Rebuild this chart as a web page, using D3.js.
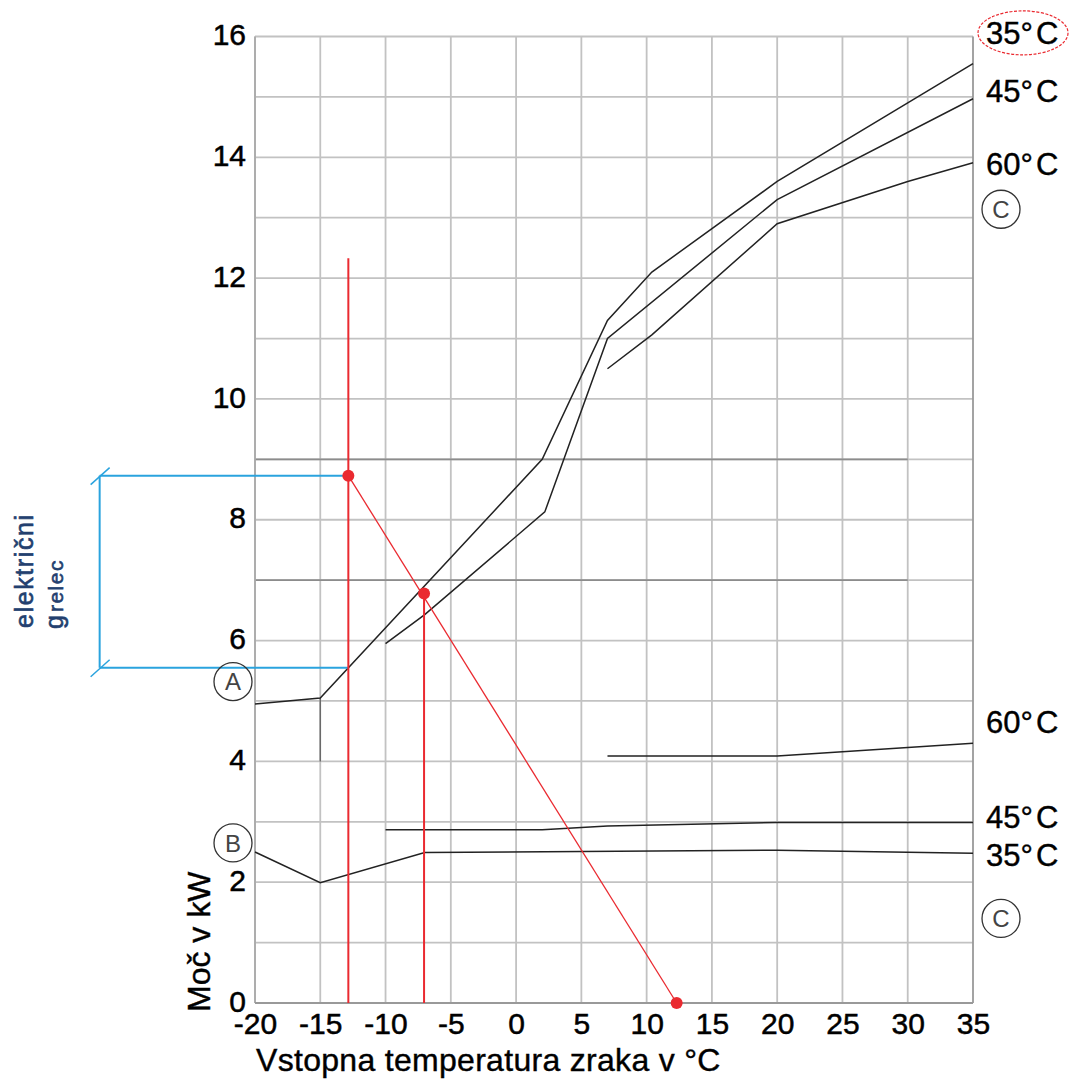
<!DOCTYPE html>
<html>
<head>
<meta charset="utf-8">
<script src="https://cdn.jsdelivr.net/npm/d3@7"></script>
<style>
  body { margin: 0; background: #fff; }
  text { font-family: "Liberation Sans", Arial, sans-serif; }
</style>
</head>
<body>
<script>
// tick values
const tempTicks = [-20, -15, -10, -5, 0, 5, 10, 15, 20, 25, 30, 35];
const powerTicks = [0, 2, 4, 6, 8, 10, 12, 14, 16];
const powerGrid = d3.range(0, 17);

// A: heating capacity curves [temp, kW]
const capacity35 = [[-20, 4.95], [-15, 5.05], [2, 9.0], [7, 11.3], [10.4, 12.1], [20, 13.6], [30, 14.9], [35, 15.55]];
const capacity45 = [[-10, 5.95], [-7, 6.43], [2.2, 8.13], [7, 11.0], [20, 13.3], [35, 14.97]];
const capacity60 = [[7, 10.5], [10.4, 11.06], [20, 12.9], [30, 13.6], [35, 13.91]];

// B: power input curves
const input35 = [[-20, 2.5], [-15, 1.99], [-7, 2.49], [20, 2.53], [35, 2.48]];
const input45 = [[-10, 2.87], [2, 2.87], [7, 2.93], [20, 2.99], [35, 2.99]];
const input60 = [[7, 4.09], [20, 4.09], [35, 4.3]];

// red construction (bivalent point reading)
const markTop = [-12.85, 8.73];
const markMid = [-7.05, 6.78];
const markZero = [12.3, 0];
const redTopValue = 12.33;

// blue bracket: electric heater share
const heaterFrom = 5.55;
const heaterTo = 8.73;
const bracketTemp = -31.9;

// darker grid pieces
const darkRows = [7, 9];
const darkRowEnd = 30;

// labels at right side
const upperLabels = [{t: "35°", v: 16.06, ring: true}, {t: "45°", v: 15.1}, {t: "60°", v: 13.9}];
const lowerLabels = [{t: "60°", v: 4.65}, {t: "45°", v: 3.08}, {t: "35°", v: 2.45}];
const circleC = [13.14, 1.4];

const W = 1069, H = 1079;
const svg = d3.select("body").append("svg").attr("width", W).attr("height", H);

const x = d3.scaleLinear().domain([-20, 35]).range([255, 973]);
const y = d3.scaleLinear().domain([0, 16]).range([1003, 36.5]);

// grid
svg.append("g").selectAll("line").data(powerGrid).enter().append("line")
  .attr("x1", x(-20)).attr("x2", x(35))
  .attr("y1", d => y(d)).attr("y2", d => y(d))
  .attr("stroke", "#c2c2c2").attr("stroke-width", 1.8);
svg.append("g").selectAll("line").data(tempTicks).enter().append("line")
  .attr("x1", d => x(d)).attr("x2", d => x(d))
  .attr("y1", y(0)).attr("y2", y(16))
  .attr("stroke", d => d === 35 ? "#999" : "#c2c2c2").attr("stroke-width", 1.8);
svg.append("g").selectAll("line").data(darkRows).enter().append("line")
  .attr("x1", x(-20)).attr("x2", x(darkRowEnd))
  .attr("y1", d => y(d)).attr("y2", d => y(d))
  .attr("stroke", "#8c8c8c").attr("stroke-width", 1.8);
svg.append("line")
  .attr("x1", x(-15)).attr("x2", x(-15)).attr("y1", y(4)).attr("y2", y(5.05))
  .attr("stroke", "#666").attr("stroke-width", 1.4);
svg.append("line")
  .attr("x1", x(-20)).attr("x2", x(-20)).attr("y1", y(0)).attr("y2", y(16))
  .attr("stroke", "#aaa").attr("stroke-width", 1.8);
svg.append("line")
  .attr("x1", x(-20)).attr("x2", x(35)).attr("y1", y(0)).attr("y2", y(0))
  .attr("stroke", "#999").attr("stroke-width", 1.8);

// axes
const yAxis = svg.append("g").attr("transform", "translate(" + x(-20) + ",0)")
  .call(d3.axisLeft(y).tickValues(powerTicks).tickFormat(d => String(d)).tickSize(0).tickPadding(9));
const xAxis = svg.append("g").attr("transform", "translate(0," + y(0) + ")")
  .call(d3.axisBottom(x).tickValues(tempTicks).tickFormat(d => String(d)).tickSize(0).tickPadding(10));
[yAxis, xAxis].forEach(a => {
  a.select(".domain").remove();
  a.selectAll("text").style("font-size", "30px").attr("fill", "#000")
    .attr("stroke", "#000").attr("stroke-width", 0.5)
    .style("font-family", "'Liberation Sans', Arial, sans-serif");
});
yAxis.selectAll("text").attr("dy", "0.27em");

// curves
const line = d3.line().x(d => x(d[0])).y(d => y(d[1]));
[capacity35, capacity45, capacity60, input35, input45, input60].forEach(data => {
  svg.append("path").datum(data)
    .attr("fill", "none").attr("stroke", "#222").attr("stroke-width", 1.5)
    .attr("d", line);
});

// blue bracket
const blue = "#2aa3de";
const bx = x(bracketTemp);
svg.append("line").attr("x1", bx).attr("x2", x(markTop[0])).attr("y1", y(heaterTo)).attr("y2", y(heaterTo))
  .attr("stroke", blue).attr("stroke-width", 2);
svg.append("line").attr("x1", bx).attr("x2", x(markTop[0])).attr("y1", y(heaterFrom)).attr("y2", y(heaterFrom))
  .attr("stroke", blue).attr("stroke-width", 2);
svg.append("line").attr("x1", bx).attr("x2", bx).attr("y1", y(heaterTo)).attr("y2", y(heaterFrom))
  .attr("stroke", blue).attr("stroke-width", 2);
[heaterTo, heaterFrom].forEach(v => {
  svg.append("line").attr("x1", bx - 9).attr("x2", bx + 10)
    .attr("y1", y(v) + 9).attr("y2", y(v) - 8)
    .attr("stroke", blue).attr("stroke-width", 1.5);
});

// red construction
const red = "#ea2a30";
svg.append("line").attr("x1", x(markTop[0])).attr("x2", x(markTop[0]))
  .attr("y1", y(redTopValue)).attr("y2", y(0)).attr("stroke", red).attr("stroke-width", 2);
svg.append("line").attr("x1", x(markMid[0])).attr("x2", x(markMid[0]))
  .attr("y1", y(markMid[1])).attr("y2", y(0)).attr("stroke", red).attr("stroke-width", 2);
svg.append("line").attr("x1", x(markTop[0])).attr("x2", x(markZero[0]))
  .attr("y1", y(markTop[1])).attr("y2", y(markZero[1])).attr("stroke", red).attr("stroke-width", 1.3);
svg.selectAll(".mark").data([markTop, markMid, markZero]).enter().append("circle")
  .attr("cx", d => x(d[0])).attr("cy", d => y(d[1])).attr("r", 6).attr("fill", red);

// circled letters
function ring(cx, cy, letter) {
  svg.append("circle").attr("cx", cx).attr("cy", cy).attr("r", 19)
    .attr("fill", "none").attr("stroke", "#333").attr("stroke-width", 1.3);
  svg.append("text").attr("x", cx).attr("y", cy).attr("dy", "0.36em")
    .attr("text-anchor", "middle").style("font-size", "24px").attr("fill", "#444").text(letter);
}
ring(x(-20) - 22, y(5.32), "A");
ring(x(-20) - 22, y(2.65), "B");
circleC.forEach(v => ring(x(35) + 28, y(v), "C"));

// temperature labels
const lx = x(35) + 13;
upperLabels.concat(lowerLabels).forEach(l => {
  const t = svg.append("text").attr("x", lx).attr("y", y(l.v)).attr("dy", "0.36em")
    .style("font-size", "31px").attr("fill", "#000").attr("stroke", "#000").attr("stroke-width", 0.4);
  t.append("tspan").text(l.t);
  t.append("tspan").attr("dx", 3).text("C");
  if (l.ring) {
    svg.append("ellipse").attr("cx", lx + 37).attr("cy", y(l.v))
      .attr("rx", 45).attr("ry", 22).attr("fill", "none")
      .attr("stroke", red).attr("stroke-width", 1.2).attr("stroke-dasharray", "3,1.5");
  }
});

// axis titles
svg.append("text").attr("x", x(-20) + 1).attr("y", 1071)
  .style("font-size", "32px").style("letter-spacing", "0.3px")
  .attr("fill", "#000").attr("stroke", "#000").attr("stroke-width", 0.4)
  .text("Vstopna temperatura zraka v °C");
svg.append("text").attr("transform", "translate(210,1012) rotate(-90)")
  .style("font-size", "32px").attr("fill", "#000").attr("stroke", "#000").attr("stroke-width", 0.4)
  .text("Moč v kW");

// heater note
svg.append("text").attr("transform", "translate(33,628) rotate(-90)")
  .style("font-size", "25px").style("letter-spacing", "1.6px")
  .attr("fill", "#23406f").attr("stroke", "#23406f").attr("stroke-width", 0.6)
  .text("električni");
const g2 = svg.append("text").attr("transform", "translate(63,629) rotate(-90)")
  .attr("fill", "#23406f").attr("stroke", "#23406f").attr("stroke-width", 0.6);
g2.append("tspan").style("font-size", "25px").text("g");
g2.append("tspan").attr("dx", 3).style("font-size", "21px").style("letter-spacing", "1.5px").text("relec");
</script>
</body>
</html>
